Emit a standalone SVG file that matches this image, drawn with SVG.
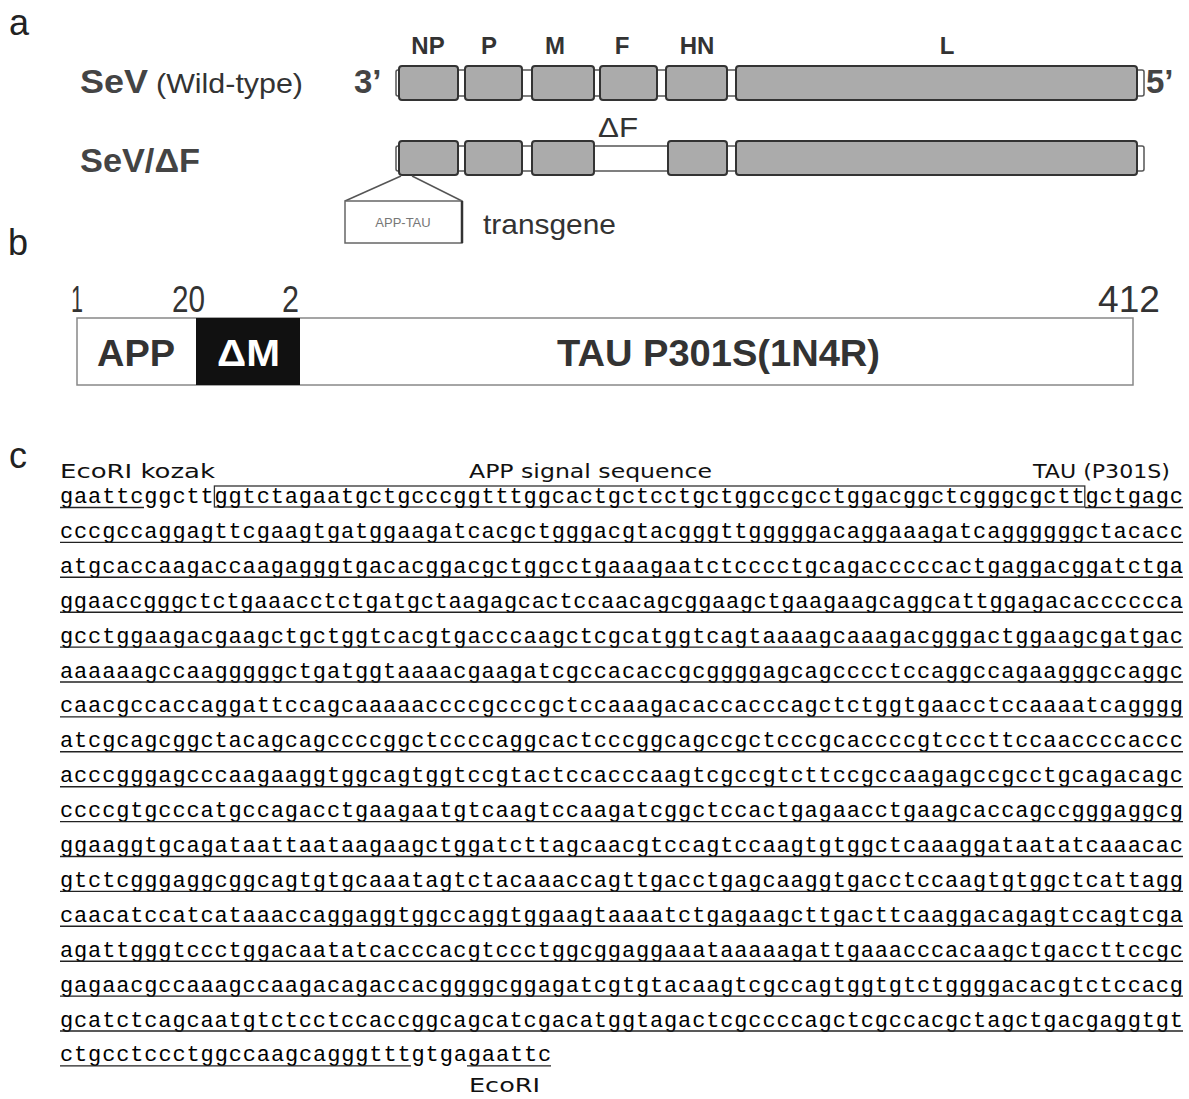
<svg xmlns="http://www.w3.org/2000/svg" width="1189" height="1099" viewBox="0 0 1189 1099">
<style>
.lbl{font-family:"Liberation Sans",Arial,sans-serif;font-size:36px;fill:#222}
.gene{font-family:"Liberation Sans",Arial,sans-serif;font-size:24px;font-weight:bold;fill:#333;text-anchor:middle}
.name{font-family:"Liberation Sans",Arial,sans-serif;font-size:33px;font-weight:bold;fill:#444}
.norm{font-family:"Liberation Sans",Arial,sans-serif;font-size:28px;fill:#333}
.box{fill:#ababab;stroke:#333;stroke-width:2}
.bb{fill:#fff;stroke:#555;stroke-width:1.5}
.num{font-family:"Liberation Sans",Arial,sans-serif;font-size:37px;fill:#333}
.dom{font-family:"Liberation Sans",Arial,sans-serif;font-size:37px;font-weight:bold;fill:#333}
.seq{font-family:"Liberation Mono","DejaVu Sans Mono",monospace;font-size:22px;fill:#000}
.hdr{font-family:"DejaVu Sans","Liberation Sans",sans-serif;font-size:20px;fill:#111}
.ul{stroke:#222;stroke-width:1.4}
</style>

<!-- panel labels -->
<text class="lbl" x="9" y="35">a</text>
<text class="lbl" x="8" y="255">b</text>
<text class="lbl" x="9" y="468">c</text>

<!-- panel a -->
<g id="row-wildtype">
  <text class="name" x="80" y="93" textLength="68" lengthAdjust="spacingAndGlyphs">SeV</text>
  <text class="norm" x="156" y="93" textLength="147" lengthAdjust="spacingAndGlyphs">(Wild-type)</text>
  <text class="name" x="354" y="93" font-size="36">3’</text>
  <text class="name" x="1146" y="93" font-size="36">5’</text>
  <rect class="bb" x="396" y="70" width="748" height="26" rx="2"/>
  <g id="gene-NP"><rect class="box" x="399" y="66" width="59" height="34" rx="3"/><text class="gene" x="428" y="54">NP</text></g>
  <g id="gene-P"><rect class="box" x="465" y="66" width="57" height="34" rx="3"/><text class="gene" x="489" y="54">P</text></g>
  <g id="gene-M"><rect class="box" x="532" y="66" width="62" height="34" rx="3"/><text class="gene" x="555" y="54">M</text></g>
  <g id="gene-F"><rect class="box" x="600" y="66" width="57" height="34" rx="3"/><text class="gene" x="622" y="54">F</text></g>
  <g id="gene-HN"><rect class="box" x="666" y="66" width="61" height="34" rx="3"/><text class="gene" x="697" y="54">HN</text></g>
  <g id="gene-L"><rect class="box" x="736" y="66" width="401" height="34" rx="3"/><text class="gene" x="947" y="54">L</text></g>
</g>

<g id="row-deltaF">
  <text class="name" x="80" y="172" textLength="120" lengthAdjust="spacingAndGlyphs">SeV/ΔF</text>
  <rect class="bb" x="396" y="146" width="748" height="25" rx="2"/>
  <g id="d-NP"><rect class="box" x="399" y="141" width="59" height="34" rx="3"/></g>
  <g id="d-P"><rect class="box" x="465" y="141" width="57" height="34" rx="3"/></g>
  <g id="d-M"><rect class="box" x="532" y="141" width="62" height="34" rx="3"/></g>
  <g id="d-gap"><text class="norm" x="598" y="137" textLength="40" lengthAdjust="spacingAndGlyphs">ΔF</text></g>
  <g id="d-HN"><rect class="box" x="668" y="141" width="59" height="34" rx="3"/></g>
  <g id="d-L"><rect class="box" x="736" y="141" width="401" height="34" rx="3"/></g>
</g>

<g id="connectors">
  <line x1="401" y1="176" x2="345" y2="201" stroke="#555" stroke-width="1.5"/>
  <line x1="412" y1="176" x2="462" y2="201" stroke="#555" stroke-width="1.5"/>
</g>

<g id="transgene">
  <rect x="345" y="201" width="117" height="42" fill="#fff" stroke="#666" stroke-width="1.5"/>
  <line x1="462" y1="201" x2="462" y2="243" stroke="#333" stroke-width="2.5"/>
  <text x="403" y="227" font-family="Liberation Sans,Arial,sans-serif" font-size="13" fill="#777" text-anchor="middle">APP-TAU</text>
  <text class="norm" x="483" y="234" font-size="29" textLength="133" lengthAdjust="spacingAndGlyphs">transgene</text>
</g>

<!-- panel b -->
<g id="construct">
  <text class="num" x="71" y="312" textLength="12" lengthAdjust="spacingAndGlyphs">1</text>
  <text class="num" x="172" y="312" textLength="33" lengthAdjust="spacingAndGlyphs">20</text>
  <text class="num" x="282" y="312" textLength="17" lengthAdjust="spacingAndGlyphs">2</text>
  <text class="num" x="1098" y="312" textLength="62" lengthAdjust="spacingAndGlyphs">412</text>
  <rect x="77" y="318" width="1056" height="67" fill="#fff" stroke="#888" stroke-width="1.5"/>
  <g id="dom-APP"><text class="dom" x="97" y="366" textLength="78" lengthAdjust="spacingAndGlyphs">APP</text></g>
  <g id="dom-dM"><rect x="196" y="318" width="104" height="67" fill="#111"/><text class="dom" x="217" y="366" textLength="63" lengthAdjust="spacingAndGlyphs" style="fill:#fff">ΔM</text></g>
  <g id="dom-TAU"><text class="dom" x="557" y="366" textLength="323" lengthAdjust="spacingAndGlyphs">TAU P301S(1N4R)</text></g>
</g>

<!-- panel c -->
<g id="sequence">
  <text class="hdr" x="60" y="478" textLength="155" lengthAdjust="spacingAndGlyphs">EcoRI kozak</text>
  <text class="hdr" x="469" y="478" textLength="243" lengthAdjust="spacingAndGlyphs">APP signal sequence</text>
  <text class="hdr" x="1033" y="478" textLength="137" lengthAdjust="spacingAndGlyphs">TAU (P301S)</text>
  <rect x="214.4" y="486" width="870.4" height="21" fill="none" stroke="#333" stroke-width="1.3"/>
  <g class="seq">
    <text x="60" y="503" textLength="1123" lengthAdjust="spacing">gaattcggcttggtctagaatgctgcccggtttggcactgctcctgctggccgcctggacggctcgggcgcttgctgagc</text>
    <text x="60" y="537.9" textLength="1123" lengthAdjust="spacing">cccgccaggagttcgaagtgatggaagatcacgctgggacgtacgggttgggggacaggaaagatcaggggggctacacc</text>
    <text x="60" y="572.8" textLength="1123" lengthAdjust="spacing">atgcaccaagaccaagagggtgacacggacgctggcctgaaagaatctcccctgcagacccccactgaggacggatctga</text>
    <text x="60" y="607.7" textLength="1123" lengthAdjust="spacing">ggaaccgggctctgaaacctctgatgctaagagcactccaacagcggaagctgaagaagcaggcattggagacacccccca</text>
    <text x="60" y="642.6" textLength="1123" lengthAdjust="spacing">gcctggaagacgaagctgctggtcacgtgacccaagctcgcatggtcagtaaaagcaaagacgggactggaagcgatgac</text>
    <text x="60" y="677.5" textLength="1123" lengthAdjust="spacing">aaaaaagccaagggggctgatggtaaaacgaagatcgccacaccgcggggagcagcccctccaggccagaagggccaggc</text>
    <text x="60" y="712.4" textLength="1123" lengthAdjust="spacing">caacgccaccaggattccagcaaaaaccccgcccgctccaaagacaccacccagctctggtgaacctccaaaatcagggg</text>
    <text x="60" y="747.3" textLength="1123" lengthAdjust="spacing">atcgcagcggctacagcagccccggctccccaggcactcccggcagccgctcccgcaccccgtcccttccaaccccaccc</text>
    <text x="60" y="782.2" textLength="1123" lengthAdjust="spacing">acccgggagcccaagaaggtggcagtggtccgtactccacccaagtcgccgtcttccgccaagagccgcctgcagacagc</text>
    <text x="60" y="817.1" textLength="1123" lengthAdjust="spacing">ccccgtgcccatgccagacctgaagaatgtcaagtccaagatcggctccactgagaacctgaagcaccagccgggaggcg</text>
    <text x="60" y="852" textLength="1123" lengthAdjust="spacing">ggaaggtgcagataattaataagaagctggatcttagcaacgtccagtccaagtgtggctcaaaggataatatcaaacac</text>
    <text x="60" y="886.9" textLength="1123" lengthAdjust="spacing">gtctcgggaggcggcagtgtgcaaatagtctacaaaccagttgacctgagcaaggtgacctccaagtgtggctcattagg</text>
    <text x="60" y="921.8" textLength="1123" lengthAdjust="spacing">caacatccatcataaaccaggaggtggccaggtggaagtaaaatctgagaagcttgacttcaaggacagagtccagtcga</text>
    <text x="60" y="956.7" textLength="1123" lengthAdjust="spacing">agattgggtccctggacaatatcacccacgtccctggcggaggaaataaaaagattgaaacccacaagctgaccttccgc</text>
    <text x="60" y="991.6" textLength="1123" lengthAdjust="spacing">gagaacgccaaagccaagacagaccacggggcggagatcgtgtacaagtcgccagtggtgtctggggacacgtctccacg</text>
    <text x="60" y="1026.5" textLength="1123" lengthAdjust="spacing">gcatctcagcaatgtctcctccaccggcagcatcgacatggtagactcgccccagctcgccacgctagctgacgaggtgt</text>
    <text x="60" y="1061.4" textLength="491.3" lengthAdjust="spacing">ctgcctccctggccaagcagggtttgtgagaattc</text>
  </g>
  <g id="underlines" class="ul">
    <line x1="60" y1="507.5" x2="144" y2="507.5"/>
    <line x1="1085" y1="507.5" x2="1183" y2="507.5"/>
    <line x1="60" y1="542.4" x2="1183" y2="542.4"/>
    <line x1="60" y1="577.3" x2="1183" y2="577.3"/>
    <line x1="60" y1="612.2" x2="1183" y2="612.2"/>
    <line x1="60" y1="647.1" x2="1183" y2="647.1"/>
    <line x1="60" y1="682" x2="1183" y2="682"/>
    <line x1="60" y1="716.9" x2="1183" y2="716.9"/>
    <line x1="60" y1="751.8" x2="1183" y2="751.8"/>
    <line x1="60" y1="786.7" x2="1183" y2="786.7"/>
    <line x1="60" y1="821.6" x2="1183" y2="821.6"/>
    <line x1="60" y1="856.5" x2="1183" y2="856.5"/>
    <line x1="60" y1="891.4" x2="1183" y2="891.4"/>
    <line x1="60" y1="926.3" x2="1183" y2="926.3"/>
    <line x1="60" y1="961.2" x2="1183" y2="961.2"/>
    <line x1="60" y1="996.1" x2="1183" y2="996.1"/>
    <line x1="60" y1="1031" x2="1183" y2="1031"/>
    <line x1="60" y1="1065.9" x2="411" y2="1065.9"/>
    <line x1="467" y1="1065.9" x2="551" y2="1065.9"/>
  </g>
  <text class="hdr" x="469" y="1092" textLength="71" lengthAdjust="spacingAndGlyphs">EcoRI</text>
</g>
</svg>
